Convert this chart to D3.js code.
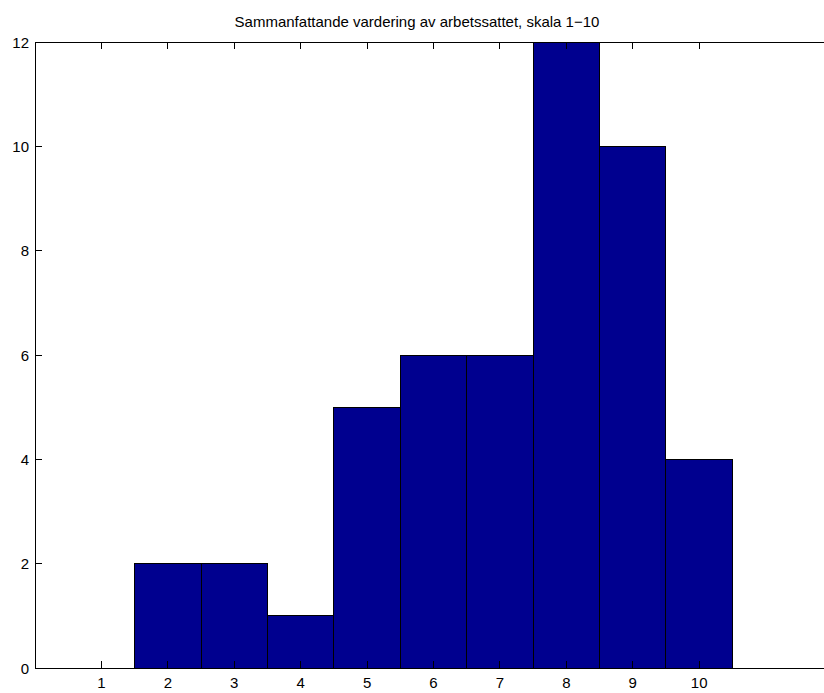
<!DOCTYPE html>
<html><head><meta charset="utf-8">
<script src="https://cdn.jsdelivr.net/npm/d3@7/dist/d3.min.js"></script>
<style>body{margin:0;background:#fff}svg{display:block}text{font-family:"Liberation Sans",Arial,sans-serif}</style>
</head><body>
<script>
const title = "Sammanfattande vardering av arbetssattet, skala 1\u221210";
const categories = [1,2,3,4,5,6,7,8,9,10];
const counts = [0,2,2,1,5,6,6,12,10,4];
const yTicks = [0,2,4,6,8,10,12];
const xTicks = [1,2,3,4,5,6,7,8,9,10];

const W=824,H=693;
const m={left:35,top:42,right:832,bottom:668};
const svg=d3.select("body").append("svg").attr("width",W).attr("height",H);
const x=d3.scaleLinear().domain([0,12]).range([m.left,m.right]);
const y=d3.scaleLinear().domain([0,12]).range([m.bottom,m.top]);

svg.append("g").selectAll("rect").data(categories).join("rect")
  .attr("x",(d)=>x(d-0.5)).attr("width",(d)=>x(d+0.5)-x(d-0.5))
  .attr("y",(d,i)=>y(counts[i])).attr("height",(d,i)=>y(0)-y(counts[i]))
  .attr("fill","#00008f").attr("stroke","#000").attr("stroke-width",1)
  .attr("shape-rendering","crispEdges");

const tl=7;
const g=svg.append("g").attr("stroke","#000").attr("shape-rendering","crispEdges");
g.append("rect").attr("x",m.left).attr("y",m.top).attr("width",m.right-m.left).attr("height",m.bottom-m.top).attr("fill","none");
xTicks.forEach(t=>{
  g.append("line").attr("x1",x(t)).attr("x2",x(t)).attr("y1",m.bottom).attr("y2",m.bottom-tl);
  g.append("line").attr("x1",x(t)).attr("x2",x(t)).attr("y1",m.top).attr("y2",m.top+tl);
});
yTicks.forEach(t=>{
  g.append("line").attr("x1",m.left).attr("x2",m.left+tl).attr("y1",y(t)).attr("y2",y(t));
  g.append("line").attr("x1",m.right).attr("x2",m.right-tl).attr("y1",y(t)).attr("y2",y(t));
});

const lab=svg.append("g").attr("font-size",15).attr("fill","#000");
xTicks.forEach(t=>{
  lab.append("text").attr("x",x(t)).attr("y",688).attr("text-anchor","middle").text(t);
});
yTicks.forEach(t=>{
  lab.append("text").attr("x",29).attr("y",y(t)+5.5).attr("text-anchor","end").text(t);
});
svg.append("text").attr("x",(m.left+797)/2+1).attr("y",27).attr("text-anchor","middle")
  .attr("font-size",15).text(title);
</script>
</body></html>
